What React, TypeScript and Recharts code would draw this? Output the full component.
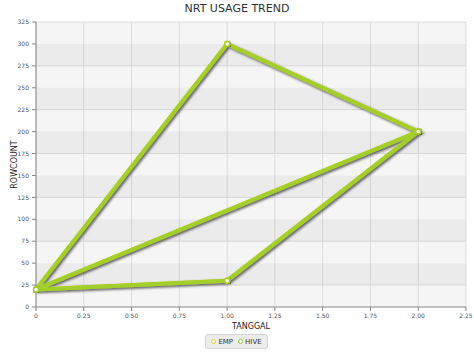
import React from 'react';
import { LineChart, Line, XAxis, YAxis, CartesianGrid, ReferenceArea } from 'recharts';

const chartTitle = 'NRT USAGE TREND';
const xAxisLabel = 'TANGGAL';
const yAxisLabel = 'ROWCOUNT';

const xTicks = [0, 0.25, 0.5, 0.75, 1, 1.25, 1.5, 1.75, 2, 2.25];
const yTicks = [0, 25, 50, 75, 100, 125, 150, 175, 200, 225, 250, 275, 300, 325];

// minor tick marks between the labelled ones
const xMinorTicks = Array.from({ length: 46 }, (_, i) => +(i * 0.05).toFixed(2));
const yMinorTicks = Array.from({ length: 66 }, (_, i) => i * 5);

const seriesNames = ['EMP', 'HIVE'];
const seriesColors = ['#e6d82a', '#a3cf2c'];

// EMP has no rows, HIVE rows come in the order they were logged
const empTanggal: number[] = [];
const empRowcount: number[] = [];
const hiveTanggal = [0, 1, 2, 0, 1, 2];
const hiveRowcount = [20, 300, 200, 20, 30, 200];

const toPoints = (xs: number[], ys: number[]) => xs.map((x, i) => ({ x, y: ys[i] }));
const seriesData = [toPoints(empTanggal, empRowcount), toPoints(hiveTanggal, hiveRowcount)];

const font = '"DejaVu Sans", sans-serif';
const fmtX = (v: number) => (v === 0 ? '0' : v.toFixed(2));
const tickStyle = { fontSize: 6, fill: '#555', fontFamily: font };

// every other band between major y ticks is a bit darker
const darkBands = yTicks.slice(0, -1).map((v, i) => [v, yTicks[i + 1]]).filter((_, i) => i % 2 === 1);

export default function App() {
  return (
    <div style={{ position: 'absolute', left: 0, top: 0, width: 474, height: 355, background: '#fff', fontFamily: font }}>
      <div style={{ position: 'absolute', top: 2, left: 0, width: 474, textAlign: 'center', fontSize: 11, color: '#333' }}>
        {chartTitle}
      </div>
      <LineChart width={474} height={355} data={seriesData[1]} margin={{ top: 22, right: 8, left: 0, bottom: 20 }}>
        <defs>
          <filter id="lineShadow" x="-10%" y="-10%" width="120%" height="120%">
            <feDropShadow dx="1.5" dy="1.5" stdDeviation="1" floodColor="#444" floodOpacity="0.55" />
          </filter>
        </defs>
        <CartesianGrid syncWithTicks stroke="#dcdcdc" fill="#f5f5f5" fillOpacity={1} />
        {darkBands.map(([a, b]) => (
          <ReferenceArea key={a} y1={a} y2={b} fill="#000" fillOpacity={0.04} stroke="none" />
        ))}
        <XAxis
          dataKey="x"
          type="number"
          domain={[0, 2.25]}
          ticks={xTicks}
          tickFormatter={fmtX}
          height={28}
          tickSize={4}
          tickMargin={3}
          stroke="#888"
          tick={tickStyle}
          label={{ value: xAxisLabel, position: 'insideBottom', offset: 6, style: { fontSize: 8, fill: '#222', fontFamily: font } }}
        />
        <XAxis
          xAxisId="minor"
          type="number"
          domain={[0, 2.25]}
          ticks={xMinorTicks}
          height={0}
          tick={false}
          axisLine={false}
          tickSize={2}
          tickLine={{ stroke: '#999' }}
        />
        <YAxis
          type="number"
          domain={[0, 325]}
          ticks={yTicks}
          width={36}
          tickSize={4}
          tickMargin={3}
          stroke="#888"
          tick={tickStyle}
          label={{ value: yAxisLabel, angle: -90, position: 'insideLeft', offset: 14, style: { textAnchor: 'middle', fontSize: 8, fill: '#222', fontFamily: font } }}
        />
        <YAxis
          yAxisId="minor"
          type="number"
          domain={[0, 325]}
          ticks={yMinorTicks}
          width={0}
          tick={false}
          axisLine={false}
          tickSize={2}
          tickLine={{ stroke: '#999' }}
        />
        {seriesNames.map((name, i) => (
          <Line
            key={name}
            name={name}
            data={seriesData[i]}
            dataKey="y"
            type="linear"
            stroke={seriesColors[i]}
            strokeWidth={4}
            filter="url(#lineShadow)"
            dot={{ r: 2.5, fill: '#fff', stroke: seriesColors[i], strokeWidth: 1.5 }}
            isAnimationActive={false}
          />
        ))}
      </LineChart>
      <div
        style={{
          position: 'absolute',
          top: 334,
          left: 205,
          width: 63,
          height: 15,
          boxSizing: 'border-box',
          display: 'flex',
          alignItems: 'center',
          justifyContent: 'center',
          gap: 5,
          background: '#ececec',
          border: '1px solid #d4d4d4',
          borderRadius: 3,
          fontSize: 7,
          color: '#333',
        }}
      >
        {seriesNames.map((name, i) => (
          <span key={name} style={{ display: 'flex', alignItems: 'center', gap: 2 }}>
            <span style={{ width: 3, height: 3, borderRadius: '50%', border: `1.3px solid ${seriesColors[i]}`, background: '#fff' }} />
            {name}
          </span>
        ))}
      </div>
    </div>
  );
}
